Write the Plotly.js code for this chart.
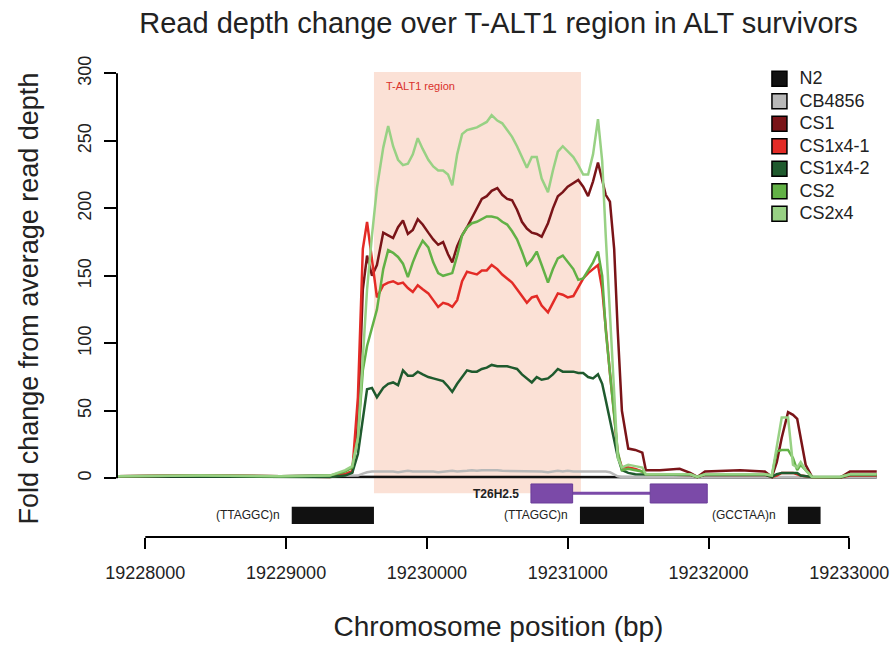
<!DOCTYPE html>
<html>
<head>
<meta charset="utf-8">
<script src="https://cdn.plot.ly/plotly-3.0.1.min.js"></script>
<style>html,body{margin:0;padding:0;background:#fff;}#chart{width:895px;height:648px;}</style>
</head>
<body>
<div id="chart"></div>
<script>
// Chromosome positions (bp) shared by all coverage series
const positions = [19227800, 19228390, 19228960, 19229310, 19229420, 19229470, 19229510, 19229545, 19229575, 19229610,
 19229645, 19229690, 19229725, 19229760, 19229795, 19229830, 19229865, 19229900, 19229935, 19229970,
 19230010, 19230045, 19230080, 19230115, 19230150, 19230180, 19230215, 19230250, 19230285, 19230320,
 19230355, 19230390, 19230425, 19230460, 19230500, 19230535, 19230570, 19230605, 19230640, 19230675,
 19230710, 19230745, 19230780, 19230815, 19230860, 19230895, 19230930, 19230965, 19231000, 19231040,
 19231075, 19231110, 19231145, 19231180, 19231215, 19231245, 19231270, 19231300, 19231330, 19231355,
 19231385, 19231430, 19231480, 19231530, 19231555, 19231655, 19231795, 19231870, 19231920, 19231975,
 19232225, 19232400, 19232450, 19232485, 19232520, 19232565, 19232600, 19232630, 19232655, 19232690,
 19232735, 19232935, 19233005, 19233195];

const n2 = [1.2,1,1.2,1,1,1,1,1,1,1, 1,1,1,1,1,1,1,1,1,1, 1,1,1,1,1,1,1,1,1,1, 1,1,1,1,1,1,1,1,1,1,
 1,1,1,1,1,1,1,1,1,1, 1,1,1,1,1,1,1,1,1,1, 1,0.8,0.8,0.8,0.8,0.8,0.8,0.8,0.8,0.8, 0.8,0.8,0.8,0.8,0.8,0.8,0.8,0.8,0.8,0.8, 0.8,0.8,0.8,0.8];
const cb4856 = [1.5,2,1.5,1.5,1.5,1.5,2,3.5,4.5,5, 5,5.5,5,5,4.5,5,5.5,5,5,5.5, 5,5,4.5,5,5,5.5,5,5,5.5,6,
 5.5,6,6,6.5,6,5.5,5.5,5,5.5,5.5, 5,5.5,5,5,4.5,5,5.5,5,5.5,5, 5,5.5,5,5,5.5,5,5,4.5,3,1.5,
 1,1,1,1,1,1,1,1,1,1, 1,1,1,1,1,1,1,1,1,1, 1,1,1,1];
const cs1 = [1.5,2,1.5,2,3,5,40,140,165,150, 158,182,180,178,186,191,181,184,192,188,
 182,177,173,175,166,160,172,180,186,193, 201,207,209,213,215,210,207,206,199,190,
 185,182,181,179,189,200,209,212,216,219, 221,216,209,220,234,221,210,205,170,110,
 50,22,21,19,6,6,7,4,1,5, 6,5,1,12,30,49,47,44,30,10, 1,0.5,5,5];
const cs1x4_1 = [1.5,2,1.5,1,3,5,60,170,190,160, 134,143,145,146,144,145,141,138,143,140,
 137,132,127,130,129,127,132,146,153,152, 151,154,154,158,155,151,148,145,140,135,
 130,134,135,128,123,130,137,136,134,135, 142,148,152,155,158,140,110,78,48,18,
 8,8,7,5,3,3,2.5,2.5,1,2.5, 2.5,2.5,1,2,4,4,4,3,2,1.5, 1,0.5,2,2];
const cs1x4_2 = [1.5,1.5,1.5,1,2,4,18,45,66,67, 60,67,70,71,69,80,76,76,79,77,
 75,74,73,72,68,64,70,75,80,79, 79,81,82,84,83,83,83,82,81,77,
 74,71,75,73,74,77,81,79,79,79, 78,78,75,74,77,70,58,43,28,16,
 6,4,3,3,2.5,2.5,2.5,2.5,1,2.5, 2.5,2.5,1,3,4,4,4,4,2,1.5, 1,0.5,2.5,2.5];
const cs2 = [1.5,2,1.5,2,5,8,30,80,98,112, 125,155,169,167,164,159,149,160,169,176,
 171,160,152,150,151,152,165,180,186,189, 190,192,194,194,193,190,188,183,177,168,
 158,162,168,158,145,155,163,165,160,155, 147,148,154,160,168,150,110,80,50,20,
 6,7,6,5,3,3,3,3,1,3, 3,3,2,20,21,21,15,6,10,6, 1,1,3,3];
const cs2x4 = [1.5,2,1.5,2,6,9,30,90,140,180, 215,245,261,246,236,232,233,240,252,244,
 236,231,228,228,225,217,240,255,258,259, 260,262,264,269,265,263,258,253,246,238,
 230,238,238,222,212,228,242,246,242,238, 232,225,225,240,266,235,180,120,60,15,
 8,10,9,8,3,3,3,3,1,3, 3,3,2,25,45,45,10,8,12,6, 1,1,3,3];

const seriesNames = ['N2', 'CB4856', 'CS1', 'CS1x4-1', 'CS1x4-2', 'CS2', 'CS2x4'];
const seriesValues = [n2, cb4856, cs1, cs1x4_1, cs1x4_2, cs2, cs2x4];
const seriesColors = ['#111111', '#b8b8b8', '#7a1418', '#e32b26', '#1f5a2e', '#62b146', '#98d184'];

const xTicks = [19228000, 19229000, 19230000, 19231000, 19232000, 19233000];
const yTicks = [0, 50, 100, 150, 200, 250, 300];

// Annotation tracks (bp)
const tAlt1Region = [19229624, 19231094];
const geneName = 'T26H2.5';
const geneExonStarts = [19230739, 19231586];
const geneExonEnds = [19231035, 19231991];
const repeatLabels = ['(TTAGGC)n', '(TTAGGC)n', '(GCCTAA)n'];
const repeatStarts = [19229040, 19231087, 19232564];
const repeatEnds = [19229624, 19231542, 19232796];

const FONT = 'Liberation Sans, Arial, Helvetica, sans-serif';

const traces = [];
seriesNames.forEach((name, i) => {
  traces.push({
    x: positions, y: seriesValues[i], type: 'scatter', mode: 'lines',
    line: {color: seriesColors[i], width: 2.5}, showlegend: false, name: name, hoverinfo: 'x+y+name'
  });
});
seriesNames.forEach((name, i) => {
  traces.push({
    x: [null], y: [null], type: 'scatter', mode: 'markers',
    name: '<span style="font-size:18px">' + name + '</span>',
    marker: {symbol: 'square', size: 15, color: seriesColors[i], line: {color: '#000', width: 1.5}}
  });
});

const shapes = [];
// T-ALT1 shaded region
shapes.push({type: 'rect', xref: 'x', yref: 'y', x0: tAlt1Region[0], x1: tAlt1Region[1], y0: -11, y1: 301,
  fillcolor: '#fbe1d6', line: {width: 0}, layer: 'below'});
// gene model: intron line then exons
shapes.push({type: 'line', xref: 'x', yref: 'y', x0: geneExonEnds[0], x1: geneExonStarts[1], y0: -11, y1: -11,
  line: {color: '#7b4aa8', width: 3}});
geneExonStarts.forEach((s, i) => {
  shapes.push({type: 'rect', xref: 'x', yref: 'y', x0: s, x1: geneExonEnds[i], y0: -4.2, y1: -18.3,
    fillcolor: '#7b4aa8', line: {color: '#6a3c98', width: 1}});
});
repeatStarts.forEach((s, i) => {
  shapes.push({type: 'rect', xref: 'x', yref: 'y', x0: s, x1: repeatEnds[i], y0: -21, y1: -33.9,
    fillcolor: '#111111', line: {width: 0}});
});
// R-style axis lines spanning only the tick range
shapes.push({type: 'line', xref: 'paper', yref: 'y', x0: 0, x1: 0, y0: yTicks[0], y1: yTicks[yTicks.length - 1],
  line: {color: '#000', width: 2}});
shapes.push({type: 'line', xref: 'x', yref: 'paper', x0: xTicks[0], x1: xTicks[xTicks.length - 1], y0: 0, y1: 0,
  line: {color: '#000', width: 2}});

const annotations = [];
annotations.push({x: tAlt1Region[0], y: 291, xref: 'x', yref: 'y', xanchor: 'left', yanchor: 'middle', xshift: 10,
  text: 'T-ALT1 region', showarrow: false, font: {family: FONT, size: 11, color: '#d9312b'}});
annotations.push({x: geneExonStarts[0], y: -11.5, xref: 'x', yref: 'y', xanchor: 'right', yanchor: 'middle', xshift: -10,
  text: '<b>' + geneName + '</b>', showarrow: false, font: {family: FONT, size: 12, color: '#222'}});
repeatStarts.forEach((s, i) => {
  annotations.push({x: s, y: -27.5, xref: 'x', yref: 'y', xanchor: 'right', yanchor: 'middle', xshift: -10,
    text: repeatLabels[i], showarrow: false, font: {family: FONT, size: 12, color: '#222'}});
});

const layout = {
  width: 895, height: 648,
  margin: {l: 117, r: 15, t: 60, b: 111},
  paper_bgcolor: '#fff', plot_bgcolor: '#fff',
  font: {family: FONT, color: '#222'},
  title: {text: 'Read depth change over T-ALT1 region in ALT survivors', font: {family: FONT, size: 29, color: '#222'},
    x: 0.5, xref: 'paper', y: 1 - 23 / 648, yref: 'container', yanchor: 'middle'},
  xaxis: {
    range: [19227799, 19233218], showgrid: false, zeroline: false, showline: false,
    tickmode: 'array', tickvals: xTicks, ticktext: xTicks.map(String),
    ticks: 'outside', ticklen: 11, tickwidth: 2, tickcolor: '#000',
    tickfont: {family: FONT, size: 18, color: '#222'}, ticklabelstandoff: 8,
    title: {text: 'Chromosome position (bp)', font: {family: FONT, size: 28, color: '#222'}, standoff: 34},
    automargin: false
  },
  yaxis: {
    range: [-43.5, 309.9], showgrid: false, zeroline: false, showline: false,
    tickmode: 'array', tickvals: yTicks, ticktext: yTicks.map(String),
    ticks: 'outside', ticklen: 12, tickwidth: 2, tickcolor: '#000', tickangle: -90,
    tickfont: {family: FONT, size: 18, color: '#222'}, ticklabelstandoff: 6,
    title: {text: 'Fold change from average read depth', font: {family: FONT, size: 27, color: '#222'}, standoff: 28},
    automargin: false
  },
  legend: {x: 0.842, y: 0.995, xanchor: 'left', yanchor: 'top', bgcolor: 'rgba(0,0,0,0)',
    font: {family: FONT, size: 15, color: '#222'}, tracegroupgap: 0},
  shapes: shapes,
  annotations: annotations
};

Plotly.newPlot('chart', traces, layout, {displayModeBar: false, staticPlot: true});
</script>
</body>
</html>
